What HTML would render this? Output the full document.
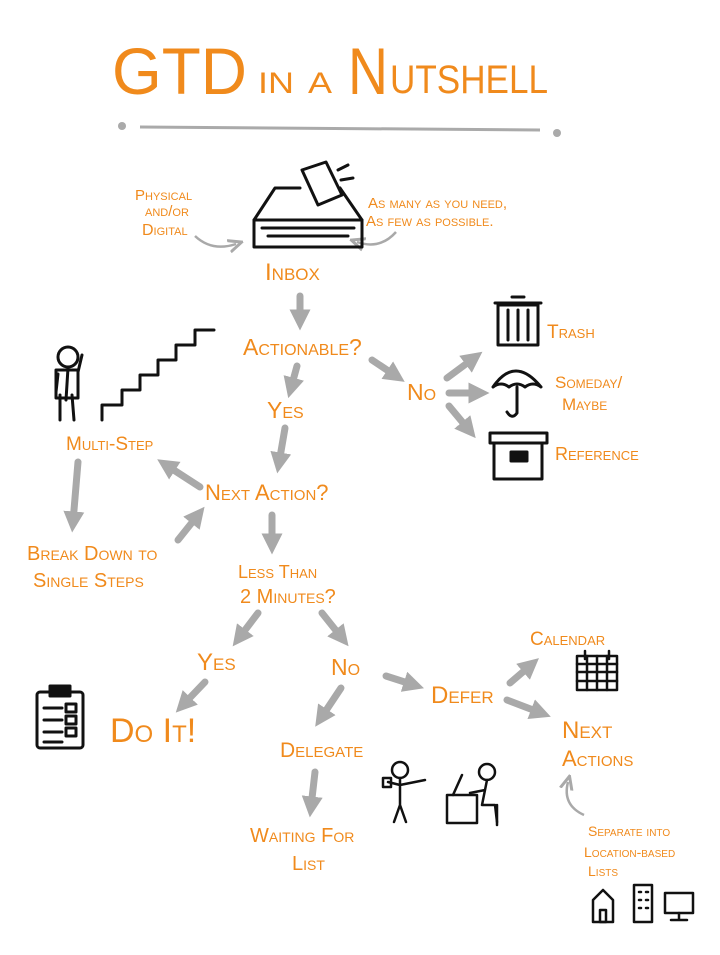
<!DOCTYPE html>
<html><head><meta charset="utf-8"><style>
html,body{margin:0;padding:0;background:#fff;}
svg{display:block;}
text{font-family:"Liberation Sans",sans-serif;fill:#f08a1c;font-variant:small-caps;font-weight:500;}
.ic{fill:none;stroke:#111;stroke-width:3;stroke-linecap:round;stroke-linejoin:round;}
.ar{stroke:#a9a9a9;stroke-width:7;stroke-linecap:round;fill:none;}
.th{stroke:#a9a9a9;stroke-width:2.5;fill:none;}
</style></head><body>
<svg width="720" height="955" viewBox="0 0 720 955" xmlns="http://www.w3.org/2000/svg">
<defs>
<marker id="h" viewBox="0 0 10 10" refX="5" refY="5" markerWidth="3" markerHeight="3" orient="auto"><path d="M0,0 L10,5 L0,10 z" fill="#a9a9a9"/></marker>
<marker id="t" viewBox="0 0 10 10" refX="5" refY="5" markerWidth="6" markerHeight="6" orient="auto"><path d="M0,1 L9,5 L0,9" fill="none" stroke="#a9a9a9" stroke-width="2"/></marker>
</defs>
<!-- title -->
<text x="112" y="94" font-size="66" style="font-variant:normal;font-weight:normal" textLength="135" lengthAdjust="spacingAndGlyphs">GTD</text>
<text x="258" y="93" font-size="30" style="font-variant:normal" textLength="36" lengthAdjust="spacingAndGlyphs">IN</text>
<text x="308" y="93" font-size="30" style="font-variant:normal" textLength="24" lengthAdjust="spacingAndGlyphs">A</text>
<text x="348" y="94" font-size="66" style="font-variant:normal;font-weight:normal" textLength="40" lengthAdjust="spacingAndGlyphs">N</text>
<text x="390" y="93" font-size="40" style="font-variant:normal" textLength="158" lengthAdjust="spacingAndGlyphs">UTSHELL</text>
<line x1="140" y1="127" x2="540" y2="130" stroke="#aaa" stroke-width="3"/>
<circle cx="122" cy="126" r="4" fill="#aaa"/><circle cx="557" cy="133" r="4" fill="#aaa"/>

<!-- labels -->
<text x="135" y="200" font-size="15">Physical</text>
<text x="145" y="216" font-size="15">and/or</text>
<text x="142" y="235" font-size="16">Digital</text>
<text x="368" y="208" font-size="15">As many as you need,</text>
<text x="366" y="226" font-size="15">As few as possible.</text>
<text x="265" y="280" font-size="24">Inbox</text>
<text x="243" y="355" font-size="23">Actionable?</text>
<text x="407" y="400" font-size="23">No</text>
<text x="547" y="338" font-size="19">Trash</text>
<text x="555" y="388" font-size="17">Someday/</text>
<text x="562" y="410" font-size="17">Maybe</text>
<text x="555" y="460" font-size="18">Reference</text>
<text x="267" y="418" font-size="23">Yes</text>
<text x="66" y="450" font-size="19">Multi-Step</text>
<text x="205" y="500" font-size="22">Next Action?</text>
<text x="27" y="560" font-size="20">Break Down to</text>
<text x="33" y="587" font-size="20">Single Steps</text>
<text x="238" y="578" font-size="18">Less Than</text>
<text x="240" y="603" font-size="20">2 Minutes?</text>
<text x="197" y="670" font-size="24">Yes</text>
<text x="331" y="675" font-size="23">No</text>
<text x="431" y="703" font-size="24">Defer</text>
<text x="530" y="645" font-size="19">Calendar</text>
<text x="110" y="742" font-size="34">Do It!</text>
<text x="280" y="757" font-size="21">Delegate</text>
<text x="562" y="738" font-size="24">Next</text>
<text x="562" y="766" font-size="22">Actions</text>
<text x="250" y="842" font-size="20">Waiting For</text>
<text x="292" y="870" font-size="20">List</text>
<text x="588" y="836" font-size="14">Separate into</text>
<text x="584" y="857" font-size="14">Location-based</text>
<text x="588" y="876" font-size="14">Lists</text>

<!-- arrows -->
<g class="ar" marker-end="url(#h)">
<line x1="300" y1="296" x2="300" y2="320"/>
<line x1="297" y1="366" x2="291" y2="388"/>
<line x1="372" y1="360" x2="396" y2="376"/>
<line x1="447" y1="378" x2="474" y2="358"/>
<line x1="449" y1="393" x2="479" y2="393"/>
<line x1="449" y1="406" x2="469" y2="430"/>
<line x1="285" y1="428" x2="279" y2="463"/>
<line x1="200" y1="487" x2="166" y2="465"/>
<line x1="78" y1="462" x2="73" y2="522"/>
<line x1="178" y1="540" x2="198" y2="515"/>
<line x1="272" y1="515" x2="272" y2="544"/>
<line x1="258" y1="613" x2="239" y2="638"/>
<line x1="322" y1="613" x2="342" y2="638"/>
<line x1="205" y1="682" x2="183" y2="705"/>
<line x1="386" y1="676" x2="414" y2="685"/>
<line x1="341" y1="688" x2="321" y2="718"/>
<line x1="510" y1="683" x2="531" y2="665"/>
<line x1="507" y1="700" x2="541" y2="713"/>
<line x1="315" y1="772" x2="311" y2="807"/>
</g>
<g class="th" marker-end="url(#t)">
<path d="M195,236 Q212,252 236,244"/>
<path d="M396,232 Q380,250 357,242"/>
<path d="M584,815 Q562,805 568,782"/>
</g>

<!-- inbox -->
<g class="ic">
<path d="M254,220 L254,247 L362,247 L362,220"/>
<path d="M254,220 L275,188 L300,188 M340,188 L362,220 L254,220"/>
<path d="M262,228 L354,228 M268,236 L348,236"/>
<path d="M302,170 L326,162 L342,195 L318,205 z"/>
<path d="M338,170 l10,-5 M341,180 l12,-2"/>
</g>
<!-- trash -->
<g class="ic">
<rect x="498" y="305" width="40" height="40"/>
<path d="M495,303 L541,303 M512,297 L524,297"/>
<path d="M508,310 L508,340 M518,310 L518,340 M528,310 L528,340"/>
</g>
<!-- umbrella -->
<g class="ic">
<path d="M493,387 Q515,355 541,387 Q533,381 525,387 Q517,381 509,387 Q501,381 493,387 z"/>
<path d="M517,387 L517,413 Q512,420 507,412"/>
</g>
<!-- box -->
<g class="ic">
<rect x="494" y="443" width="48" height="36"/>
<path d="M490,433 L547,433 L547,443 L490,443 z"/>
<rect x="511" y="452" width="16" height="9" fill="#111"/>
</g>
<!-- figure + stairs -->
<g class="ic">
<circle cx="68" cy="357" r="10"/>
<path d="M68,368 L66,400 M58,374 L56,392 M78,372 L82,355"/>
<path d="M60,395 L60,420 M72,395 L74,420"/>
<rect x="56" y="370" width="22" height="28"/>
<path d="M102,420 L102,405 L122,405 L122,390 L140,390 L140,375 L158,375 L158,360 L176,360 L176,345 L195,345 L195,330 L214,330"/>
</g>
<!-- clipboard -->
<g class="ic">
<rect x="37" y="692" width="46" height="56" rx="3"/>
<rect x="50" y="686" width="20" height="10" fill="#111"/>
<path d="M44,708 L62,708 M44,720 L62,720 M44,732 L62,732 M44,742 L62,742"/>
<rect x="66" y="704" width="10" height="8"/><rect x="66" y="716" width="10" height="8"/><rect x="66" y="728" width="10" height="8"/>
</g>
<!-- calendar -->
<g class="ic" style="stroke-width:2.5">
<rect x="577" y="656" width="40" height="34"/>
<path d="M577,664 L617,664 M577,672 L617,672 M577,681 L617,681 M587,656 L587,690 M597,656 L597,690 M607,656 L607,690 M585,651 L585,659 M609,651 L609,659"/>
</g>
<!-- delegate figures -->
<g class="ic" style="stroke-width:2.5">
<circle cx="400" cy="770" r="8"/>
<path d="M400,778 L400,805 M400,805 L394,822 M400,805 L406,822 M400,785 L388,782 M400,785 L425,780"/>
<rect x="383" y="778" width="8" height="9"/>
<circle cx="487" cy="772" r="8"/>
<path d="M487,780 L482,805 L495,805 L497,822 M485,790 L470,793"/>
<rect x="447" y="795" width="30" height="28"/>
<path d="M453,795 L462,775"/>
<path d="M497,805 L497,825"/>
</g>
<!-- house / building / computer -->
<g class="ic" style="stroke-width:2.5">
<path d="M593,922 L593,900 L603,890 L613,900 L613,922 z"/>
<rect x="600" y="910" width="6" height="12"/>
<rect x="634" y="885" width="18" height="37"/>
<path d="M639,892 l2,0 M646,892 l2,0 M639,900 l2,0 M646,900 l2,0 M639,908 l2,0 M646,908 l2,0"/>
<rect x="665" y="893" width="28" height="20"/>
<path d="M679,913 L679,920 M671,920 L687,920"/>
</g>
</svg>
</body></html>
